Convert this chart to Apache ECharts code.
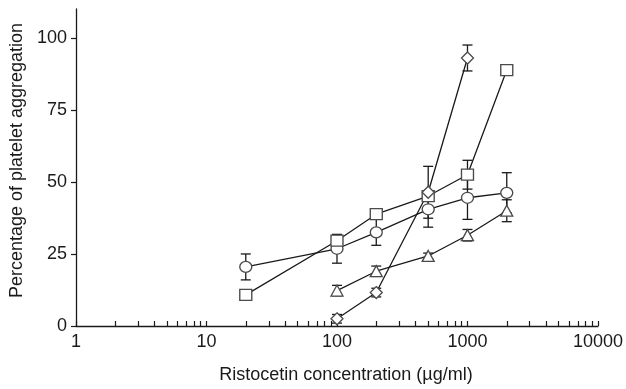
<!DOCTYPE html>
<html>
<head>
<meta charset="utf-8">
<script src="https://cdn.jsdelivr.net/npm/echarts@6/dist/echarts.min.js"></script>
<style>
  html, body { margin: 0; padding: 0; background: #fff; }
  #chart { width: 626px; height: 389px; }
</style>
</head>
<body>
<div id="chart"></div>
<script>
  // concentrations (µg/ml) and % aggregation
  const diamondX = [100, 200, 500, 1000];
  const diamondY = [2.5, 11.6, 46.4, 93];
  const diamondErr = [1.5, 1.5, 9, 4.5];

  const squareX = [20, 100, 200, 500, 1000, 2000];
  const squareY = [10.8, 29.6, 38.8, 45.1, 52.5, 88.8];
  const squareErr = [0, 2, 0, 1, 5, 1.5];

  const circleX = [20, 100, 200, 500, 1000, 2000];
  const circleY = [20.5, 26.8, 32.5, 40.5, 44.5, 46.2];
  const circleErr = [4.5, 5, 4.5, 6.2, 7.5, 7];

  const triangleX = [100, 200, 500, 1000, 2000];
  const triangleY = [12.3, 19, 24.3, 31.5, 40];
  const triangleErr = [1.8, 1.8, 1, 2, 3.8];

  const xLabels = [1, 10, 100, 1000, 10000];
  const xTicks = [];
  [1, 10, 100, 1000].forEach(function (d) {
    for (let k = 1; k < 10; k++) xTicks.push(d * k);
  });
  xTicks.push(10000);
  const yLabels = [0, 25, 50, 75, 100];

  const font = 'Liberation Sans, Arial, sans-serif';
  const ink = '#1a1a1a';
  const markColor = '#4a4a4a';

  function pts(xs, ys) {
    return xs.map(function (x, i) { return [x, ys[i]]; });
  }
  function errPts(xs, ys, es) {
    return xs.map(function (x, i) { return [x, ys[i] - es[i], ys[i] + es[i]]; });
  }

  function errorSeries(xs, ys, es) {
    return {
      type: 'custom',
      data: errPts(xs, ys, es),
      z: 1,
      silent: true,
      renderItem: function (params, api) {
        const lo = api.coord([api.value(0), api.value(1)]);
        const hi = api.coord([api.value(0), api.value(2)]);
        const w = 5;
        const style = { stroke: ink, lineWidth: 1.3 };
        return {
          type: 'group',
          children: [
            { type: 'line', shape: { x1: lo[0], y1: lo[1], x2: hi[0], y2: hi[1] }, style: style },
            { type: 'line', shape: { x1: lo[0] - w, y1: lo[1], x2: lo[0] + w, y2: lo[1] }, style: style },
            { type: 'line', shape: { x1: hi[0] - w, y1: hi[1], x2: hi[0] + w, y2: hi[1] }, style: style }
          ]
        };
      }
    };
  }

  function lineSeries(xs, ys, symbol, size) {
    return {
      type: 'line',
      data: pts(xs, ys),
      symbol: symbol,
      symbolSize: size,
      showAllSymbol: true,
      z: 3,
      lineStyle: { color: ink, width: 1.3 },
      itemStyle: { color: '#fff', borderColor: markColor, borderWidth: 1.3 },
      emphasis: { disabled: true }
    };
  }

  const chart = echarts.init(document.getElementById('chart'));
  chart.setOption({
    animation: false,
    grid: { left: 76, right: 26, top: 9, bottom: 60, containLabel: false },
    xAxis: {
      type: 'log',
      logBase: 10,
      min: 1,
      max: 10000,
      name: 'Ristocetin concentration (µg/ml)',
      nameLocation: 'middle',
      nameGap: 40,
      nameTextStyle: { fontFamily: font, fontSize: 18, color: ink, padding: [0, 0, 0, 18] },
      axisLine: { lineStyle: { color: ink, width: 1.3 } },
      axisTick: { inside: true, length: 5, customValues: xTicks, lineStyle: { color: ink, width: 1.2 } },
      axisLabel: {
        customValues: xLabels, fontFamily: font, fontSize: 18, color: ink, margin: 7,
        formatter: function (v) { return String(v); }
      },
      splitLine: { show: false },
      minorTick: { show: false }
    },
    yAxis: {
      type: 'value',
      min: 0,
      max: 110,
      name: 'Percentage of platelet aggregation',
      nameLocation: 'middle',
      nameGap: 46,
      nameTextStyle: { fontFamily: font, fontSize: 18, color: ink, padding: [0, 0, 0, 14] },
      axisLine: { show: true, lineStyle: { color: ink, width: 1.3 } },
      axisTick: { show: true, length: 5, customValues: yLabels, lineStyle: { color: ink, width: 1.2 } },
      axisLabel: { customValues: yLabels, fontFamily: font, fontSize: 18, color: ink, margin: 9 },
      splitLine: { show: false }
    },
    series: [
      errorSeries(diamondX, diamondY, diamondErr),
      errorSeries(squareX, squareY, squareErr),
      errorSeries(circleX, circleY, circleErr),
      errorSeries(triangleX, triangleY, triangleErr),
      lineSeries(circleX, circleY, 'circle', [12, 11]),
      lineSeries(squareX, squareY, 'rect', [12, 11]),
      lineSeries(triangleX, triangleY, 'triangle', [12, 11]),
      lineSeries(diamondX, diamondY, 'diamond', [12, 12])
    ]
  });
</script>
</body>
</html>
